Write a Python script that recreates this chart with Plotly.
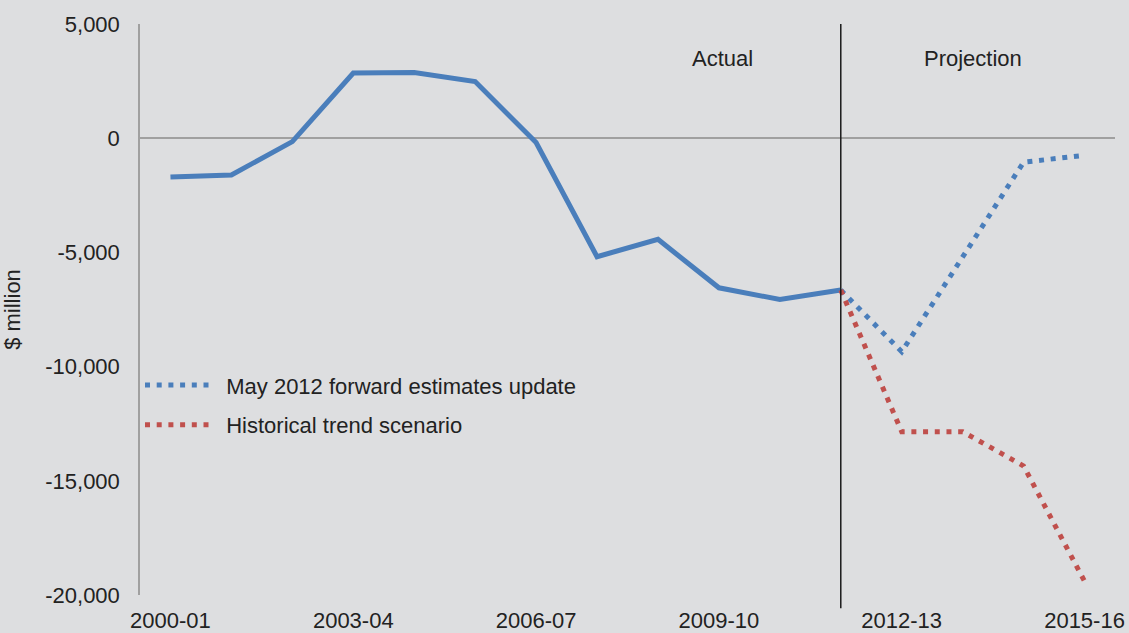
import plotly.graph_objects as go

years = ["2000-01", "2001-02", "2002-03", "2003-04", "2004-05", "2005-06", "2006-07",
         "2007-08", "2008-09", "2009-10", "2010-11", "2011-12", "2012-13", "2013-14",
         "2014-15", "2015-16"]
actual_years = years[:12]
actual = [-1700, -1610, -150, 2850, 2880, 2480, -190, -5190, -4430, -6550, -7060, -6650]
proj_years = years[11:]
forward_estimates = [-6650, -9350, -5200, -1050, -750]
historical_trend = [-6650, -12850, -12850, -14350, -19400]
tick_labels = ["2000-01", "2003-04", "2006-07", "2009-10", "2012-13", "2015-16"]
y_ticks = [5000, 0, -5000, -10000, -15000, -20000]
y_tick_text = ["5,000", "0", "-5,000", "-10,000", "-15,000", "-20,000"]
divider_year = "2011-12"

BLUE = "#4a7ebb"
RED = "#c0504d"
BG = "#dddee0"
TXT = "#222222"
FONT = "Liberation Sans, Arial, sans-serif"
FS = 22
PAD = "\u00a0\u00a0"

fig = go.Figure()
fig.add_trace(go.Scatter(x=actual_years, y=actual, mode="lines",
                         line=dict(color=BLUE, width=5), showlegend=False,
                         name="Actual"))
fig.add_trace(go.Scatter(x=proj_years, y=forward_estimates, mode="lines",
                         line=dict(color=BLUE, width=5, dash="5px,6.7px"),
                         legendgroup="a",
                         name=PAD + "May 2012 forward estimates update"))
fig.add_trace(go.Scatter(x=proj_years, y=historical_trend, mode="lines",
                         line=dict(color=RED, width=5, dash="5px,6.7px"),
                         legendgroup="b",
                         name=PAD + "Historical trend scenario"))

fig.add_shape(type="line", xref="x", yref="paper", x0=divider_year, x1=divider_year,
              y0=-0.023, y1=1.0, line=dict(color="#1a1a1a", width=1.5), layer="above")

fig.add_annotation(text="Actual", xref="paper", yref="paper", x=0.597, y=0.94,
                   xanchor="center", yanchor="middle",
                   showarrow=False, font=dict(size=FS, color=TXT, family=FONT))
fig.add_annotation(text="Projection", xref="paper", yref="paper", x=0.854, y=0.94,
                   xanchor="center", yanchor="middle",
                   showarrow=False, font=dict(size=FS, color=TXT, family=FONT))

fig.update_layout(
    width=1129, height=633,
    paper_bgcolor=BG, plot_bgcolor=BG,
    margin=dict(l=140, r=14, t=24, b=38, autoexpand=False),
    font=dict(family=FONT, size=FS, color=TXT),
    legend=dict(x=0.0, y=0.404, xanchor="left", yanchor="top",
                bgcolor="rgba(0,0,0,0)", font=dict(size=FS, color=TXT),
                itemwidth=64, tracegroupgap=8),
    xaxis=dict(type="category", categoryorder="array", categoryarray=years,
               range=[-0.5, 15.5], tickmode="array", tickvals=tick_labels,
               ticktext=tick_labels, showgrid=False, showline=False,
               zeroline=False, ticks="", automargin=False, ticklabelstandoff=10,
               tickfont=dict(size=FS, color=TXT)),
    yaxis=dict(range=[-20000, 5000], tickmode="array", tickvals=y_ticks,
               ticktext=y_tick_text,
               showgrid=False, showline=True, linecolor="#a0a0a0", linewidth=1.5,
               zeroline=True, zerolinecolor="#a0a0a0", zerolinewidth=1.5,
               ticks="", ticklabelstandoff=14, automargin=False,
               title=dict(text="$ million", font=dict(size=22, color=TXT), standoff=23),
               tickfont=dict(size=FS, color=TXT)),
)

fig.write_html("out.html", config={"displayModeBar": False},
               post_script="document.body.style.margin='0';"
                           "document.body.style.background='#dddee0';")
